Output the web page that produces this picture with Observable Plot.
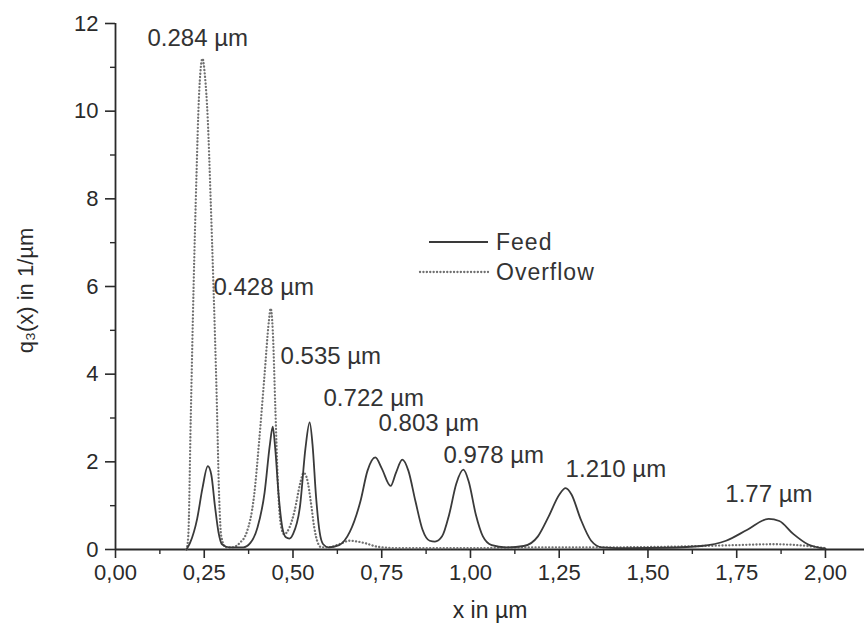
<!DOCTYPE html>
<html><head><meta charset="utf-8">
<script src="https://cdn.jsdelivr.net/npm/d3@7"></script>
<script src="https://cdn.jsdelivr.net/npm/@observablehq/plot@0.6"></script>
<style>
html,body{margin:0;padding:0;background:#fff;}
#chart{width:864px;height:627px;}
</style></head><body><div id="chart"></div>
<script>
// Feed (solid) q3(x)
const feedX = [0.20,0.21,0.23,0.245,0.26,0.27,0.28,0.29,0.30,0.32,0.36,0.38,0.40,0.42,0.435,0.443,0.45,0.46,0.47,0.48,0.49,0.50,0.52,0.535,0.547,0.555,0.565,0.575,0.585,0.60,0.63,0.66,0.69,0.71,0.732,0.75,0.775,0.79,0.808,0.825,0.845,0.865,0.885,0.90,0.92,0.94,0.96,0.98,0.995,1.015,1.035,1.06,1.10,1.15,1.19,1.22,1.25,1.268,1.285,1.31,1.34,1.37,1.45,1.55,1.65,1.72,1.78,1.84,1.87,1.91,1.95,2.00];
const feedY = [0,0.15,0.7,1.4,1.9,1.7,1.0,0.4,0.12,0.05,0.05,0.15,0.5,1.3,2.4,2.8,2.3,1.2,0.5,0.28,0.25,0.35,1.0,2.3,2.9,2.4,1.2,0.4,0.12,0.05,0.1,0.4,1.1,1.8,2.1,1.85,1.45,1.75,2.05,1.8,1.1,0.45,0.2,0.18,0.3,0.8,1.5,1.82,1.55,0.8,0.3,0.1,0.05,0.08,0.3,0.75,1.25,1.4,1.25,0.7,0.2,0.05,0.03,0.04,0.08,0.2,0.45,0.7,0.65,0.35,0.12,0.02];
// Overflow (dotted) q3(x)
const overflowX = [0.20,0.205,0.212,0.22,0.228,0.235,0.245,0.252,0.26,0.268,0.276,0.285,0.292,0.298,0.31,0.33,0.35,0.37,0.39,0.405,0.42,0.432,0.437,0.443,0.45,0.457,0.465,0.475,0.49,0.505,0.52,0.53,0.54,0.55,0.56,0.57,0.58,0.60,0.63,0.66,0.70,0.74,0.80,1.00,1.20,1.40,1.60,1.75,1.85,1.95,2.00];
const overflowY = [0,0.3,3,6,8.5,10.3,11.2,10.8,9.8,8,6,3.5,1.2,0.3,0.05,0.05,0.15,0.4,1.2,2.5,4.0,5.2,5.5,5.0,3.3,1.6,0.6,0.35,0.5,0.9,1.5,1.75,1.6,1.1,0.5,0.15,0.05,0.05,0.12,0.2,0.15,0.06,0.03,0.03,0.05,0.05,0.07,0.1,0.12,0.08,0.03];

const xTicks = [0,0.25,0.5,0.75,1,1.25,1.5,1.75,2];
const xTickLabels = ["0,00","0,25","0,50","0,75","1,00","1,25","1,50","1,75","2,00"];
const xMinor = [0.125,0.375,0.625,0.875,1.125,1.375,1.625,1.875];
const yTicks = [0,2,4,6,8,10,12];
const yMinor = [1,3,5,7,9,11];

const peakLabels = ["0.284 µm","0.428 µm","0.535 µm","0.722 µm","0.803 µm","0.978 µm","1.210 µm","1.77 µm"];
const peakLabelX = [0.09,0.276,0.465,0.586,0.741,0.924,1.268,1.718];
const peakLabelY = [11.66,5.99,4.40,3.46,2.89,2.16,1.82,1.25];

const seriesNames = ["Feed","Overflow"];

const feed = feedX.map((x,i)=>({x, y: feedY[i]}));
const overflow = overflowX.map((x,i)=>({x, y: overflowY[i]}));
const labels = peakLabels.map((t,i)=>({t, x: peakLabelX[i], y: peakLabelY[i]}));

const ink = "#2a2a2a";
const font = "'Liberation Sans', Arial, sans-serif";
const chart = Plot.plot({
  width: 864, height: 627,
  marginLeft: 115, marginRight: 0, marginTop: 23, marginBottom: 78,
  style: {fontFamily: font, fontSize: "22px", color: ink, background: "#fff"},
  x: {domain: [0, 2.11], axis: null},
  y: {domain: [0, 12], axis: null},
  marks: [
    Plot.axisX(xTicks, {tickSize: 9, tickPadding: 6, tickFormat: d => xTickLabels[xTicks.indexOf(d)], label: null, strokeWidth: 1.6, fontSize: 22}),
    Plot.axisX(xMinor, {tickSize: 5, text: null, label: null, strokeWidth: 1.4}),
    Plot.axisY(yTicks, {tickSize: 10, tickPadding: 7, label: null, strokeWidth: 1.6, fontSize: 22}),
    Plot.axisY(yMinor, {tickSize: 5, text: null, label: null, strokeWidth: 1.4}),
    Plot.ruleY([0], {stroke: ink, strokeWidth: 1.8}),
    Plot.ruleX([0], {y1: 0, y2: 12, stroke: ink, strokeWidth: 1.8}),
    Plot.line(overflow, {x: "x", y: "y", stroke: "#707070", strokeWidth: 2.3, strokeDasharray: "0.1,3.3", strokeLinecap: "round", curve: "monotone-x"}),
    Plot.line(feed, {x: "x", y: "y", stroke: "#3a3a3a", strokeWidth: 1.8, curve: "monotone-x"}),
    Plot.text(labels, {x: "x", y: "y", text: "t", textAnchor: "start", fontSize: 24, fill: "#333", style: "letter-spacing:0.8px"}),
    Plot.text(["x in µm"], {frameAnchor: "bottom", dy: 68, fontSize: 23, fill: ink, style: "letter-spacing:0.8px"}),
    Plot.text(["q₃(x) in 1/µm"], {frameAnchor: "left", textAnchor: "middle", dx: -90, dy: 4, rotate: -90, fontSize: 22, fill: ink, style: "letter-spacing:0.8px"})
  ]
});
document.getElementById("chart").appendChild(chart);

// Legend
const svg = d3.select(chart);
const lg = svg.append("g").attr("font-family", font).attr("font-size", 23).attr("fill", "#333").attr("text-anchor", "start").style("letter-spacing", "1px");
lg.append("line").attr("x1", 429).attr("x2", 488).attr("y1", 242).attr("y2", 242).attr("stroke", "#3a3a3a").attr("stroke-width", 1.8);
lg.append("line").attr("x1", 420).attr("x2", 488).attr("y1", 272).attr("y2", 272).attr("stroke", "#707070").attr("stroke-width", 2.3).attr("stroke-dasharray", "0.1,3.3").attr("stroke-linecap", "round");
lg.append("text").attr("x", 496).attr("y", 242).attr("dy", "0.35em").text(seriesNames[0]);
lg.append("text").attr("x", 496).attr("y", 272).attr("dy", "0.35em").text(seriesNames[1]);
</script>
</body></html>
